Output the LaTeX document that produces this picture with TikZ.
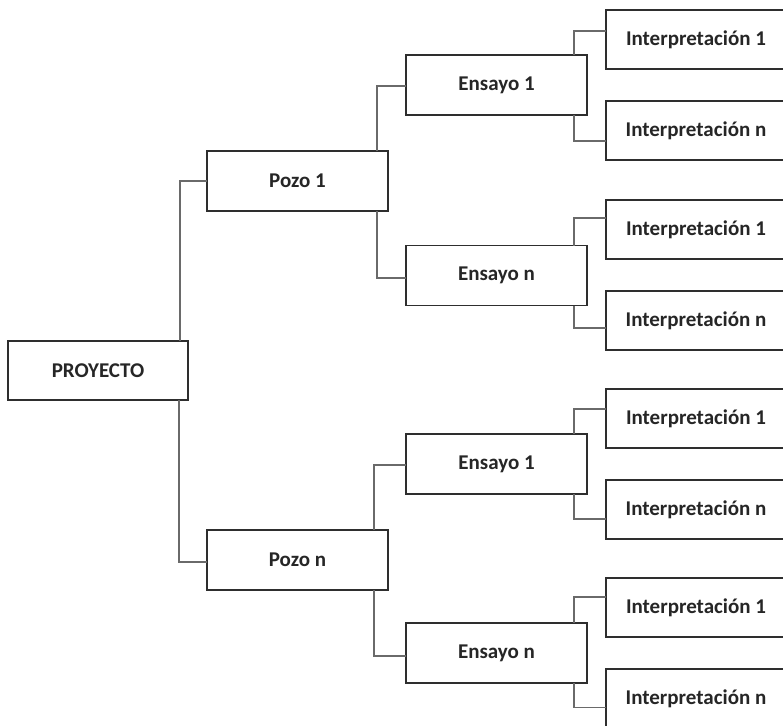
\documentclass[tikz,border=0pt]{standalone}
\usepackage{fontspec}
\setmainfont{Carlito}
\definecolor{boxline}{HTML}{2E2E2E}
\definecolor{linkline}{HTML}{6A6A6A}
\definecolor{txt}{HTML}{262626}
\begin{document}
\begin{tikzpicture}[x=1pt,y=-1pt,
  box/.style={draw=boxline,line width=1.3pt,fill=white,inner sep=0pt,outer sep=0pt,
    minimum width=180pt,minimum height=59pt,text=txt,
    font=\fontsize{21pt}{24pt}\selectfont\bfseries},
  wide/.style={box,minimum width=181pt,minimum height=60pt},
  link/.style={draw=linkline,line width=1.1pt}]
\useasboundingbox (0,0) rectangle (783,725);
\clip (0,0) rectangle (783,725);
% nodes
\node[box] (proj) at (98,370.5) {PROYECTO};
\node[wide] (pozo1) at (297.5,181) {Pozo 1};
\node[wide] (pozon) at (297.5,560) {Pozo n};
\node[wide] (e11) at (496.5,85) {Ensayo 1};
\node[wide] (e1n) at (496.5,275.5) {Ensayo n};
\node[wide] (en1) at (496.5,464) {Ensayo 1};
\node[wide] (enn) at (496.5,653) {Ensayo n};
\node[box] (i111) at (696,39.5) {Interpretación 1};
\node[box] (i11n) at (696,130.5) {Interpretación n};
\node[box] (i1n1) at (696,229.5) {Interpretación 1};
\node[box] (i1nn) at (696,320.5) {Interpretación n};
\node[box] (in11) at (696,418.5) {Interpretación 1};
\node[box] (in1n) at (696,509.5) {Interpretación n};
\node[box] (inn1) at (696,607.5) {Interpretación 1};
\node[box] (innn) at (696,698.5) {Interpretación n};
% connectors
\draw[link] ([xshift=-8pt]proj.north east) |- (pozo1.west);
\draw[link] ([xshift=-9pt]proj.south east) |- ([yshift=-2pt]pozon.west);
\draw[link] ([xshift=-11pt]pozo1.north east) |- ([yshift=-1pt]e11.west);
\draw[link] ([xshift=-11pt]pozo1.south east) |- ([yshift=-2.5pt]e1n.west);
\draw[link] ([xshift=-14pt]pozon.north east) |- ([yshift=-1pt]en1.west);
\draw[link] ([xshift=-14pt]pozon.south east) |- ([yshift=-3pt]enn.west);
\draw[link] ([xshift=-13pt]e11.north east) |- ([yshift=8.5pt]i111.west);
\draw[link] ([xshift=-13pt]e11.south east) |- ([yshift=-10.5pt]i11n.west);
\draw[link] ([xshift=-13pt]e1n.north east) |- ([yshift=11.5pt]i1n1.west);
\draw[link] ([xshift=-13pt]e1n.south east) |- ([yshift=-7.5pt]i1nn.west);
\draw[link] ([xshift=-13pt]en1.north east) |- ([yshift=9.5pt]in11.west);
\draw[link] ([xshift=-13pt]en1.south east) |- ([yshift=-9.5pt]in1n.west);
\draw[link] ([xshift=-13pt]enn.north east) |- ([yshift=10.5pt]inn1.west);
\draw[link] ([xshift=-13pt]enn.south east) |- ([yshift=-9pt]innn.west);
\end{tikzpicture}
\end{document}
